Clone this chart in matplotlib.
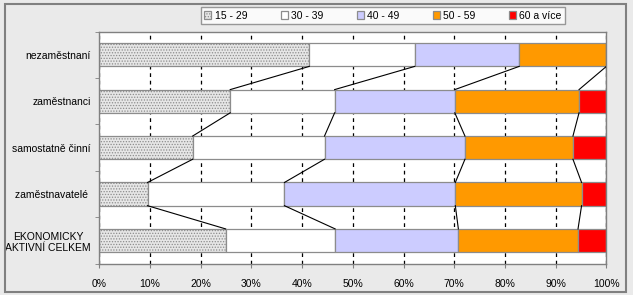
import matplotlib.pyplot as plt
import numpy as np
from matplotlib.patches import Rectangle

plt.rcParams['font.family'] = ['Liberation Sans', 'DejaVu Sans']
plt.rcParams['hatch.linewidth'] = 0.6

categories = ["nezaměstnaní", "zaměstnanci", "samostatně činní",
              "zaměstnavatelé ", "EKONOMICKY\nAKTIVNÍ CELKEM"]
groups = ["15 - 29", "30 - 39", "40 - 49", "50 - 59", "60 a více"]

# shares in %, per category
v15_29 = [41.4, 25.8, 18.4, 9.5, 24.9]
v30_39 = [20.8, 20.6, 26.0, 27.0, 21.6]
v40_49 = [20.6, 23.7, 27.7, 33.7, 24.3]
v50_59 = [17.2, 24.5, 21.3, 24.9, 23.6]
v60 = [0.0, 5.4, 6.6, 4.9, 5.6]

colors = ["#e6e6e6", "#ffffff", "#ccccff", "#ff9900", "#ff0000"]
hatches = ["......", None, None, None, None]

fig = plt.figure(figsize=(6.33, 2.95), dpi=100, facecolor="#eaeaea")
ax = fig.add_axes([0.157, 0.106, 0.801, 0.787])

data = np.array([v15_29, v30_39, v40_49, v50_59, v60])
y = np.arange(len(categories))
h = 0.5
left = np.zeros(len(categories))
handles = []
for i in range(len(groups)):
    b = ax.barh(y, data[i], left=left, height=h, color=colors[i],
                edgecolor="#8c8c8c", linewidth=0.9, hatch=hatches[i],
                label=groups[i], zorder=2)
    handles.append(b)
    left = left + data[i]
    # series connector lines
    for j in range(len(categories) - 1):
        ax.plot([min(left[j], 100), min(left[j + 1], 100)],
                [y[j] + h / 2, y[j + 1] - h / 2],
                color="black", lw=0.8, zorder=3)

ax.set_xlim(0, 100)
ax.set_ylim(len(categories) - 0.5, -0.5)
ax.set_xticks(np.arange(0, 101, 10))
ax.set_xticklabels([f"{t}%" for t in range(0, 101, 10)], fontsize=7.5)
ax.set_yticks(y)
ax.set_yticklabels(categories, fontsize=7.5, multialignment="center")
ax.set_yticks(np.arange(-0.5, len(categories), 1), minor=True)
ax.tick_params(axis="y", which="major", length=0, pad=6)
ax.tick_params(axis="y", which="minor", length=3, color="#808080")
ax.tick_params(axis="x", length=3, color="#808080", pad=8)
ax.xaxis.grid(True, color="black", linestyle=(0, (3, 3)), lw=0.9, zorder=0)
ax.set_axisbelow(True)
for s in ax.spines.values():
    s.set_color("#808080")
    s.set_linewidth(1.0)

leg = fig.legend(handles, groups, loc="center", bbox_to_anchor=(0.605, 0.947),
                 ncol=5, frameon=True, fancybox=False, edgecolor="#808080",
                 fontsize=7.5, handlelength=0.7, handleheight=0.7,
                 handletextpad=0.3, columnspacing=3.2, borderpad=0.35)
leg.get_frame().set_linewidth(1.0)

fig.patches.append(Rectangle((4.5 / 633, 3 / 295), 621 / 633, 288 / 295,
                             transform=fig.transFigure, fill=False,
                             edgecolor="#808080", lw=1.5))

plt.savefig("out.png", dpi=100, facecolor=fig.get_facecolor())
